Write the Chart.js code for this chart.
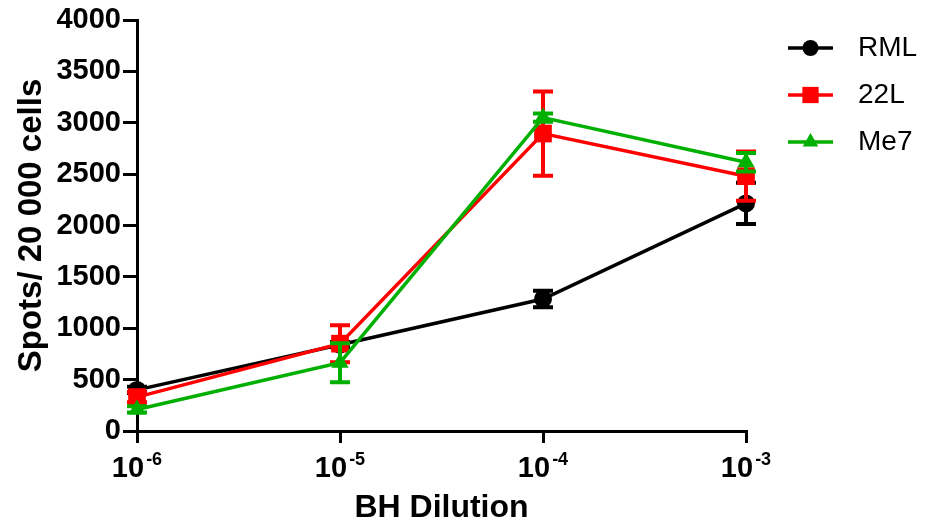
<!DOCTYPE html>
<html>
<head>
  <title>BH Dilution</title>
  <script src="https://cdn.jsdelivr.net/npm/chart.js"></script>
  <style>
    body { margin: 0; background: #fff; }
  </style>
</head>
<body>
  <canvas id="myChart" width="925" height="524"></canvas>

  <script>
    // dilution exponents on the x axis (10^x)
    const exponents = [-6, -5, -4, -3];
    const tickLabels = ['-6', '-5', '-4', '-3'];

    const seriesNames = ['RML', '22L', 'Me7'];
    const rml = [400, 840, 1285, 2215];
    const rmlErr = [30, 25, 80, 200];
    const l22 = [330, 850, 2895, 2480];
    const l22Err = [50, 180, 410, 240];
    const me7 = [210, 665, 3050, 2615];
    const me7Err = [30, 190, 40, 90];

    const FONT = '"Liberation Sans", Arial, sans-serif';
    const GREEN = '#00b000';

    function pts(vals) {
      return vals.map((v, i) => ({ x: exponents[i], y: v }));
    }

    // error bars, drawn under each dataset's own line/markers
    const errorBars = {
      id: 'errorBars',
      beforeDatasetDraw(chart, args) {
        const ds = chart.data.datasets[args.index];
        const y = chart.scales.y;
        const ctx = chart.ctx;
        ctx.save();
        ctx.strokeStyle = ds.borderColor;
        ctx.lineWidth = 4;
        args.meta.data.forEach((p, i) => {
          const v = ds.data[i].y, e = ds.errors[i];
          const top = y.getPixelForValue(v + e);
          const bot = y.getPixelForValue(v - e);
          ctx.beginPath();
          ctx.moveTo(p.x, top); ctx.lineTo(p.x, bot);
          ctx.moveTo(p.x - 10, top); ctx.lineTo(p.x + 10, top);
          ctx.moveTo(p.x - 10, bot); ctx.lineTo(p.x + 10, bot);
          ctx.stroke();
        });
        ctx.restore();
      }
    };

    // "10" with superscript exponent under each x tick, plus the line+marker legend
    const extras = {
      id: 'extras',
      afterDraw(chart) {
        const ctx = chart.ctx;
        const xs = chart.scales.x;
        const area = chart.chartArea;
        ctx.save();
        ctx.fillStyle = '#000';
        ctx.textBaseline = 'alphabetic';
        exponents.forEach((v, i) => {
          const px = xs.getPixelForValue(v);
          ctx.font = 'bold 29px ' + FONT;
          const w1 = ctx.measureText('10').width;
          ctx.font = 'bold 18px ' + FONT;
          const w2 = ctx.measureText(tickLabels[i]).width;
          const left = px - (w1 + w2 + 2) / 2;
          ctx.font = 'bold 29px ' + FONT;
          ctx.textAlign = 'left';
          ctx.fillText('10', left, area.bottom + 46);
          ctx.font = 'bold 18px ' + FONT;
          ctx.fillText(tickLabels[i], left + w1 + 2, area.bottom + 34);
        });

        chart.data.datasets.forEach((ds, i) => {
          const ly = area.top + 28 + i * 47;
          const lx = area.right + 42;
          ctx.strokeStyle = ds.borderColor;
          ctx.fillStyle = ds.borderColor;
          ctx.lineWidth = 3.5;
          ctx.beginPath();
          ctx.moveTo(lx, ly); ctx.lineTo(lx + 45, ly);
          ctx.stroke();
          Chart.helpers.drawPoint(ctx, {
            pointStyle: ds.pointStyle, radius: ds.pointRadius - 1, rotation: 0, borderWidth: 0
          }, lx + 22.5, ly);
          ctx.fillStyle = '#000';
          ctx.font = '28px ' + FONT;
          ctx.textAlign = 'left';
          ctx.textBaseline = 'middle';
          ctx.fillText(ds.label, lx + 70, ly);
          ctx.textBaseline = 'alphabetic';
        });
        ctx.restore();
      }
    };

    function series(name, vals, errs, color, style, radius, order) {
      return {
        label: name,
        data: pts(vals),
        errors: errs,
        borderColor: color,
        backgroundColor: color,
        borderWidth: 3.5,
        pointStyle: style,
        pointRadius: radius,
        pointBorderWidth: 0,
        pointBackgroundColor: color,
        fill: false,
        tension: 0,
        clip: false,
        order: order
      };
    }

    const ctx = document.getElementById('myChart').getContext('2d');
    const myChart = new Chart(ctx, {
      type: 'line',
      data: {
        datasets: [
          series(seriesNames[0], rml, rmlErr, '#000000', 'circle', 9, 2),
          series(seriesNames[1], l22, l22Err, '#ff0000', 'rect', 12.5, 1),
          series(seriesNames[2], me7, me7Err, GREEN, 'triangle', 10, 0)
        ]
      },
      options: {
        responsive: false,
        animation: false,
        layout: { padding: { top: 20, right: 179, left: 0, bottom: 0 } },
        plugins: { legend: { display: false }, tooltip: { enabled: false } },
        scales: {
          x: {
            type: 'linear',
            min: -6,
            max: -3,
            afterFit(s) { s.height = 93; },
            ticks: { stepSize: 1, callback: () => '' },
            grid: { drawOnChartArea: false, drawTicks: true, tickLength: 12, color: '#000', lineWidth: 3 },
            border: { color: '#000', width: 3 },
            title: {
              display: true, text: 'BH Dilution', color: '#000',
              font: { family: FONT, size: 32, weight: 'bold', lineHeight: 1 },
              padding: { top: 0, bottom: 0 }
            }
          },
          y: {
            min: 0,
            max: 4000,
            afterFit(s) { s.width = 137; },
            ticks: {
              stepSize: 500, color: '#000', padding: 2,
              callback: (v) => String(v),
              font: { family: FONT, size: 29, weight: 'bold' }
            },
            grid: { drawOnChartArea: false, drawTicks: true, tickLength: 14, color: '#000', lineWidth: 3 },
            border: { color: '#000', width: 3 },
            title: {
              display: true, text: 'Spots/ 20 000 cells', color: '#000',
              font: { family: FONT, size: 33, weight: 'bold' },
              padding: { top: 12, bottom: 0 }
            }
          }
        }
      },
      plugins: [errorBars, extras]
    });
  </script>
</body>
</html>
